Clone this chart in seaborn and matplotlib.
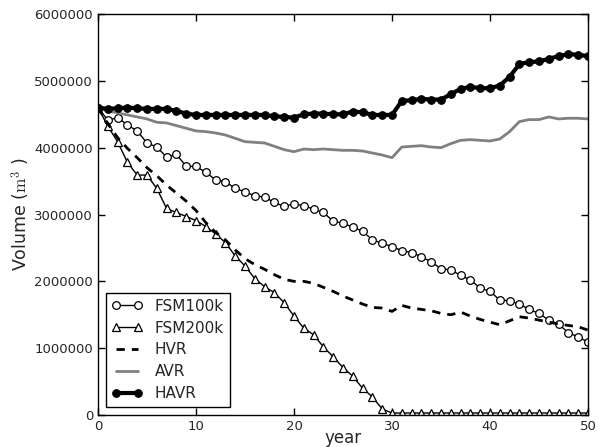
import numpy as np
import pandas as pd
import matplotlib
matplotlib.use("Agg")
import matplotlib.pyplot as plt
import seaborn as sns

sns.set_style("ticks")
plt.rcParams['font.family'] = ['DejaVu Sans']
plt.rcParams['mathtext.fontset'] = 'cm'
plt.rcParams['xtick.direction'] = 'in'
plt.rcParams['ytick.direction'] = 'in'
plt.rcParams['xtick.top'] = True
plt.rcParams['ytick.right'] = True

years = list(range(51))

# volumes in millions of m3
fsm100k = [4.60, 4.41, 4.45, 4.34, 4.25, 4.07, 4.01, 3.86, 3.90, 3.72,
           3.72, 3.63, 3.52, 3.49, 3.39, 3.34, 3.28, 3.26, 3.18, 3.12,
           3.16, 3.13, 3.08, 3.03, 2.90, 2.87, 2.81, 2.75, 2.62, 2.57,
           2.52, 2.46, 2.43, 2.37, 2.29, 2.19, 2.17, 2.09, 2.02, 1.90,
           1.85, 1.72, 1.71, 1.66, 1.58, 1.52, 1.42, 1.36, 1.23, 1.17,
           1.09]
fsm200k = [4.60, 4.32, 4.09, 3.78, 3.59, 3.59, 3.39, 3.09, 3.03, 2.97,
           2.91, 2.82, 2.71, 2.58, 2.38, 2.23, 2.04, 1.92, 1.83, 1.68,
           1.48, 1.30, 1.20, 1.02, 0.87, 0.71, 0.58, 0.40, 0.27, 0.09,
           0.03, 0.03, 0.03, 0.03, 0.03, 0.03, 0.03, 0.03, 0.03, 0.03,
           0.03, 0.03, 0.03, 0.03, 0.03, 0.03, 0.03, 0.03, 0.03, 0.03,
           0.03]
hvr = [4.60, 4.36, 4.15, 3.99, 3.85, 3.70, 3.58, 3.44, 3.32, 3.20,
       3.06, 2.88, 2.73, 2.62, 2.47, 2.34, 2.25, 2.18, 2.10, 2.03,
       2.00, 2.00, 1.97, 1.91, 1.85, 1.78, 1.72, 1.66, 1.61, 1.60,
       1.55, 1.64, 1.60, 1.58, 1.56, 1.52, 1.50, 1.54, 1.48, 1.43,
       1.39, 1.35, 1.41, 1.47, 1.45, 1.42, 1.39, 1.36, 1.34, 1.32,
       1.27]
avr = [4.60, 4.55, 4.52, 4.49, 4.46, 4.43, 4.38, 4.37, 4.33, 4.29,
       4.25, 4.24, 4.22, 4.19, 4.14, 4.09, 4.08, 4.07, 4.02, 3.97,
       3.94, 3.98, 3.97, 3.98, 3.97, 3.96, 3.96, 3.95, 3.92, 3.89,
       3.85, 4.01, 4.02, 4.03, 4.01, 4.00, 4.06, 4.11, 4.12, 4.11,
       4.10, 4.13, 4.24, 4.39, 4.42, 4.42, 4.46, 4.43, 4.44, 4.44,
       4.43]
havr = [4.60, 4.58, 4.59, 4.60, 4.59, 4.58, 4.58, 4.58, 4.55, 4.51,
        4.49, 4.49, 4.49, 4.49, 4.49, 4.49, 4.49, 4.49, 4.47, 4.46,
        4.45, 4.50, 4.51, 4.51, 4.50, 4.50, 4.54, 4.53, 4.49, 4.49,
        4.49, 4.70, 4.71, 4.73, 4.72, 4.72, 4.80, 4.88, 4.91, 4.89,
        4.89, 4.93, 5.06, 5.25, 5.28, 5.29, 5.33, 5.37, 5.40, 5.39,
        5.37]

df = pd.DataFrame({'year': years,
                   'FSM100k': np.array(fsm100k) * 1e6,
                   'FSM200k': np.array(fsm200k) * 1e6,
                   'HVR': np.array(hvr) * 1e6,
                   'AVR': np.array(avr) * 1e6,
                   'HAVR': np.array(havr) * 1e6})

fig = plt.figure(figsize=(6.07, 4.47), dpi=100)
ax = fig.add_axes([98 / 607, 32 / 447, 490 / 607, 401 / 447])

sns.lineplot(data=df, x='year', y='FSM100k', ax=ax, color='black', lw=1,
             marker='o', markersize=5.5, markerfacecolor='white',
             markeredgecolor='black', markeredgewidth=0.9, label='FSM100k')
sns.lineplot(data=df, x='year', y='FSM200k', ax=ax, color='black', lw=1,
             marker='^', markersize=5.5, markerfacecolor='white',
             markeredgecolor='black', markeredgewidth=0.9, label='FSM200k')
sns.lineplot(data=df, x='year', y='HVR', ax=ax, color='black', lw=2,
             linestyle=(0, (3, 2.5)), label='HVR')
sns.lineplot(data=df, x='year', y='AVR', ax=ax, color='#808080', lw=2,
             label='AVR')
sns.lineplot(data=df, x='year', y='HAVR', ax=ax, color='black', lw=3,
             marker='o', markersize=5.5, markerfacecolor='black',
             markeredgecolor='black', label='HAVR')

ax.set_xlim(0, 50)
ax.set_ylim(0, 6000000)
ax.set_xticks(range(0, 51, 10))
ax.set_yticks(range(0, 6000001, 1000000))
ax.ticklabel_format(axis='y', style='plain', useOffset=False)
ax.tick_params(labelsize=9.5, length=5, width=1, color='black')
for s in ax.spines.values():
    s.set_color('black')
    s.set_linewidth(1)

ax.set_xlabel('year', fontsize=12, labelpad=-3)
ax.set_ylabel('Volume ($\\mathrm{m}^3$ )', fontsize=12.5, labelpad=2)

leg = ax.legend(loc='lower left', numpoints=2, fontsize=11, frameon=True,
                fancybox=False, edgecolor='black', framealpha=1,
                handlelength=2.0, labelspacing=0.45)
leg.get_frame().set_linewidth(1)

plt.savefig('out.png', dpi=100)
